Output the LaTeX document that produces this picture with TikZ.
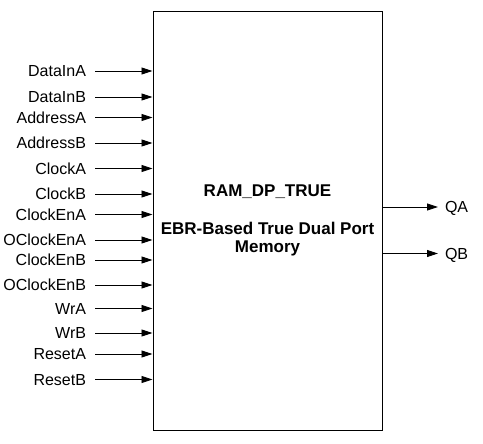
\documentclass[tikz,border=0pt]{standalone}
\usepackage{fontspec}
\setmainfont{Liberation Sans}
\usepackage{xcolor}
\usetikzlibrary{positioning, arrows.meta}
\definecolor{mInk}{HTML}{000000}
\tikzset{
  sig/.style={anchor=east, inner sep=0pt, outer xsep=9pt, text=mInk,
    font=\fontsize{16}{19}\selectfont, text height=11.5pt, text depth=0pt},
  outsig/.style={sig, anchor=west, outer xsep=7pt},
  wire/.style={draw=mInk, line width=0.9pt, ->},
}

\begin{document}
\begin{tikzpicture}[x=1pt, y=-1pt, >={Triangle[length=11pt, width=7pt]}]
        \useasboundingbox (0,0) rectangle (483,444);
        \node[draw=mInk, line width=1pt, minimum width=229pt, minimum height=418pt,
          inner sep=0pt] (mem) at (267.5,221) {};
        \node[font=\fontsize{17}{20}\bfseries\selectfont] (ttl) at (267.5,192) {RAM\_DP\_TRUE};
        \node[font=\fontsize{17}{18}\bfseries\selectfont, align=center] (dsc) at (267.5,239)
          {EBR-Based True Dual Port\\Memory};
        % inputs
        \node[sig] (dia) at (95,71) {DataInA};
        \node[sig] (dib) at (95,97) {DataInB};
        \node[sig] (ada) at (95,117.5) {AddressA};
        \node[sig] (adb) at (95,143) {AddressB};
        \node[sig] (cka) at (95,168.5) {ClockA};
        \node[sig] (ckb) at (95,194) {ClockB};
        \node[sig] (cea) at (95,214.5) {ClockEnA};
        \node[sig] (ocea) at (95,240) {OClockEnA};
        \node[sig] (ceb) at (95,260) {ClockEnB};
        \node[sig] (oceb) at (95,285) {OClockEnB};
        \node[sig] (wra) at (95,308.5) {WrA};
        \node[sig] (wrb) at (95,333) {WrB};
        \node[sig] (rsa) at (95,354) {ResetA};
        \node[sig] (rsb) at (95,379.5) {ResetB};
        \foreach \s in {dia,dib,ada,adb,cka,ckb,cea,ocea,ceb,oceb,wra,wrb,rsa,rsb}
          \draw[wire] (\s.east) -- (mem.west |- \s.east);
        % outputs
        \node[outsig] (qa) at (438,207) {QA};
        \node[outsig] (qb) at (438,253.5) {QB};
        \draw[wire] (mem.east |- qa.west) -- (qa.west);
        \draw[wire] (mem.east |- qb.west) -- (qb.west);
      \end{tikzpicture}
\end{document}
